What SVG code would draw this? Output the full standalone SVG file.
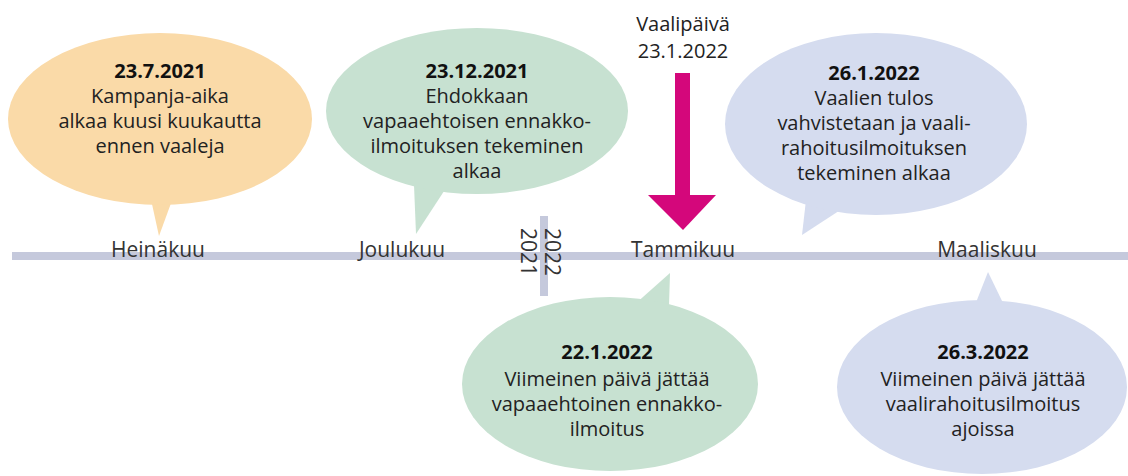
<svg xmlns="http://www.w3.org/2000/svg" width="1128" height="476" viewBox="0 0 1128 476">
<style>
text{font-family:"Open Sans","Liberation Sans",sans-serif;font-size:20px;fill:#222;text-anchor:middle}
.b{font-weight:700;fill:#111}
.m{font-size:21px;fill:#333}
.y{font-size:21px;fill:#333;text-anchor:start}
.or{fill:#fadaa8}
.gr{fill:#c7e1d1}
.bl{fill:#d5dcef}
.bar{fill:#c5c9dc}
.arr{fill:#d4077b}
</style>
<rect width="1128" height="476" fill="#fff"/>
<g id="timeline">
<rect class="bar" x="12" y="252" width="1116" height="8"/>
<rect class="bar" x="540" y="216" width="8" height="80"/>
<text class="y" transform="translate(521,228) rotate(90)">2021</text>
<text class="y" transform="translate(545,228) rotate(90)">2022</text>
<text class="m" x="158" y="257">Heinäkuu</text>
<text class="m" x="402" y="257">Joulukuu</text>
<text class="m" x="683" y="257">Tammikuu</text>
<text class="m" x="987" y="257">Maaliskuu</text>
</g>
<g id="connectors">
<g id="vaalipaiva-arrow">
<rect class="arr" x="675" y="73" width="15" height="124"/>
<polygon class="arr" points="648,195 716,195 683,230"/>
</g>
</g>
<g id="vaalipaiva">
<text x="683" y="31">Vaalipäivä</text>
<text x="683" y="58">23.1.2022</text>
</g>
<g id="n1">
<polygon class="or" points="150,195 174,195 159,236"/>
<ellipse class="or" cx="160" cy="119" rx="152" ry="86"/>
<text class="b" x="160" y="78">23.7.2021</text>
<text x="160" y="103">Kampanja-aika</text>
<text x="160" y="128">alkaa kuusi kuukautta</text>
<text x="160" y="153">ennen vaaleja</text>
</g>
<g id="n2">
<polygon class="gr" points="414,185 448,185 416,234"/>
<ellipse class="gr" cx="477" cy="111" rx="151" ry="83"/>
<text class="b" x="477" y="78">23.12.2021</text>
<text x="477" y="103">Ehdokkaan</text>
<text x="477" y="128">vapaaehtoisen ennakko-</text>
<text x="477" y="153">ilmoituksen tekeminen</text>
<text x="477" y="178">alkaa</text>
</g>
<g id="n3">
<polygon class="bl" points="806,200 848,205 802,235"/>
<ellipse class="bl" cx="876" cy="124" rx="151" ry="91"/>
<text class="b" x="874" y="80">26.1.2022</text>
<text x="874" y="105">Vaalien tulos</text>
<text x="874" y="130">vahvistetaan ja vaali-</text>
<text x="874" y="155">rahoitusilmoituksen</text>
<text x="874" y="180">tekeminen alkaa</text>
</g>
<g id="n4">
<polygon class="gr" points="634,305 669,305 670,273"/>
<ellipse class="gr" cx="610" cy="384" rx="148" ry="87"/>
<text class="b" x="607" y="359">22.1.2022</text>
<text x="607" y="386">Viimeinen päivä jättää</text>
<text x="607" y="411">vapaaehtoinen ennakko-</text>
<text x="607" y="436">ilmoitus</text>
</g>
<g id="n5">
<polygon class="bl" points="975,305 1004,305 988,272"/>
<ellipse class="bl" cx="982" cy="387" rx="145" ry="87"/>
<text class="b" x="983" y="359">26.3.2022</text>
<text x="983" y="386">Viimeinen päivä jättää</text>
<text x="983" y="411">vaalirahoitusilmoitus</text>
<text x="983" y="436">ajoissa</text>
</g>
</svg>
